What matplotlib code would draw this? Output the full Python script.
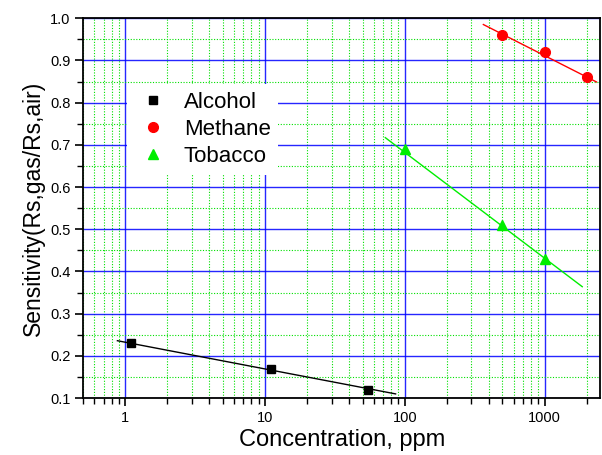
import numpy as np
import matplotlib
matplotlib.use("Agg")
import matplotlib.pyplot as plt
from matplotlib.ticker import LogLocator, FixedLocator, NullFormatter, FuncFormatter

plt.rcParams['font.family'] = ['Liberation Sans', 'DejaVu Sans']

# measured points
alcohol_x = [1.1, 11, 55]
alcohol_y = [0.23, 0.17, 0.12]
methane_x = [500, 1000, 2000]
methane_y = [0.96, 0.92, 0.86]
tobacco_x = [100, 500, 1000]
tobacco_y = [0.69, 0.51, 0.43]

# fitted lines (end points)
alcohol_fit_x = [0.88, 86]
alcohol_fit_y = [0.236, 0.11]
methane_fit_x = [365, 2350]
methane_fit_y = [0.985, 0.849]
tobacco_fit_x = [72.6, 1860]
tobacco_fit_y = [0.717, 0.364]

fig = plt.figure(figsize=(6.02, 4.55), dpi=100)
ax = fig.add_axes([0.138, 0.125, 0.859, 0.835])

ax.set_xscale('log')
ax.set_xlim(0.5, 2500)
ax.set_ylim(0.1, 1.0)

ax.xaxis.set_major_locator(LogLocator(base=10, numticks=10))
ax.xaxis.set_minor_locator(LogLocator(base=10, subs=np.arange(2, 10), numticks=20))
ax.xaxis.set_major_formatter(FuncFormatter(lambda v, p: f"{v:g}"))
ax.xaxis.set_minor_formatter(NullFormatter())
ax.yaxis.set_major_locator(FixedLocator(np.round(np.arange(0.1, 1.01, 0.1), 2)))
ax.yaxis.set_minor_locator(FixedLocator(np.round(np.arange(0.15, 1.0, 0.1), 2)))
ax.yaxis.set_major_formatter(FuncFormatter(lambda v, p: f"{v:.1f}"))

ax.grid(which='major', color='#0000ff', linestyle='-', linewidth=1.0, alpha=0.85)
ax.grid(which='minor', color='#00e000', linestyle=(0, (1, 1.5)), linewidth=0.8)
ax.set_axisbelow(True)

ax.tick_params(which='major', direction='out', length=6, width=1.2, labelsize=10.5,
               top=False, right=False, pad=3)
ax.tick_params(which='minor', direction='out', length=4, width=1.0,
               top=False, right=False)
for s in ax.spines.values():
    s.set_linewidth(1.3)

ax.plot(alcohol_fit_x, alcohol_fit_y, color='black', lw=1)
ax.plot(methane_fit_x, methane_fit_y, color='red', lw=1)
ax.plot(tobacco_fit_x, tobacco_fit_y, color='#00ee00', lw=1)

ax.plot(alcohol_x, alcohol_y, linestyle=' ', marker='s', color='black', markersize=6, label='Alcohol')
ax.plot(methane_x, methane_y, linestyle=' ', marker='o', color='red', markersize=7, label='Methane')
ax.plot(tobacco_x, tobacco_y, linestyle=' ', marker='^', color='#00ee00', markersize=7.5, label='Tobacco')

leg = ax.legend(loc='upper left', bbox_to_anchor=(0.085, 0.826), borderaxespad=0,
                fontsize=16, frameon=True, fancybox=False, edgecolor='none',
                framealpha=1, handletextpad=0.6, handlelength=1.6,
                labelspacing=0.27, borderpad=0.35)

ax.set_xlabel('Concentration, ppm', fontsize=17, labelpad=3)
ax.set_ylabel('Sensitivity(Rs,gas/Rs,air)', fontsize=16.5, labelpad=4)

fig.savefig('out.png', dpi=100)
